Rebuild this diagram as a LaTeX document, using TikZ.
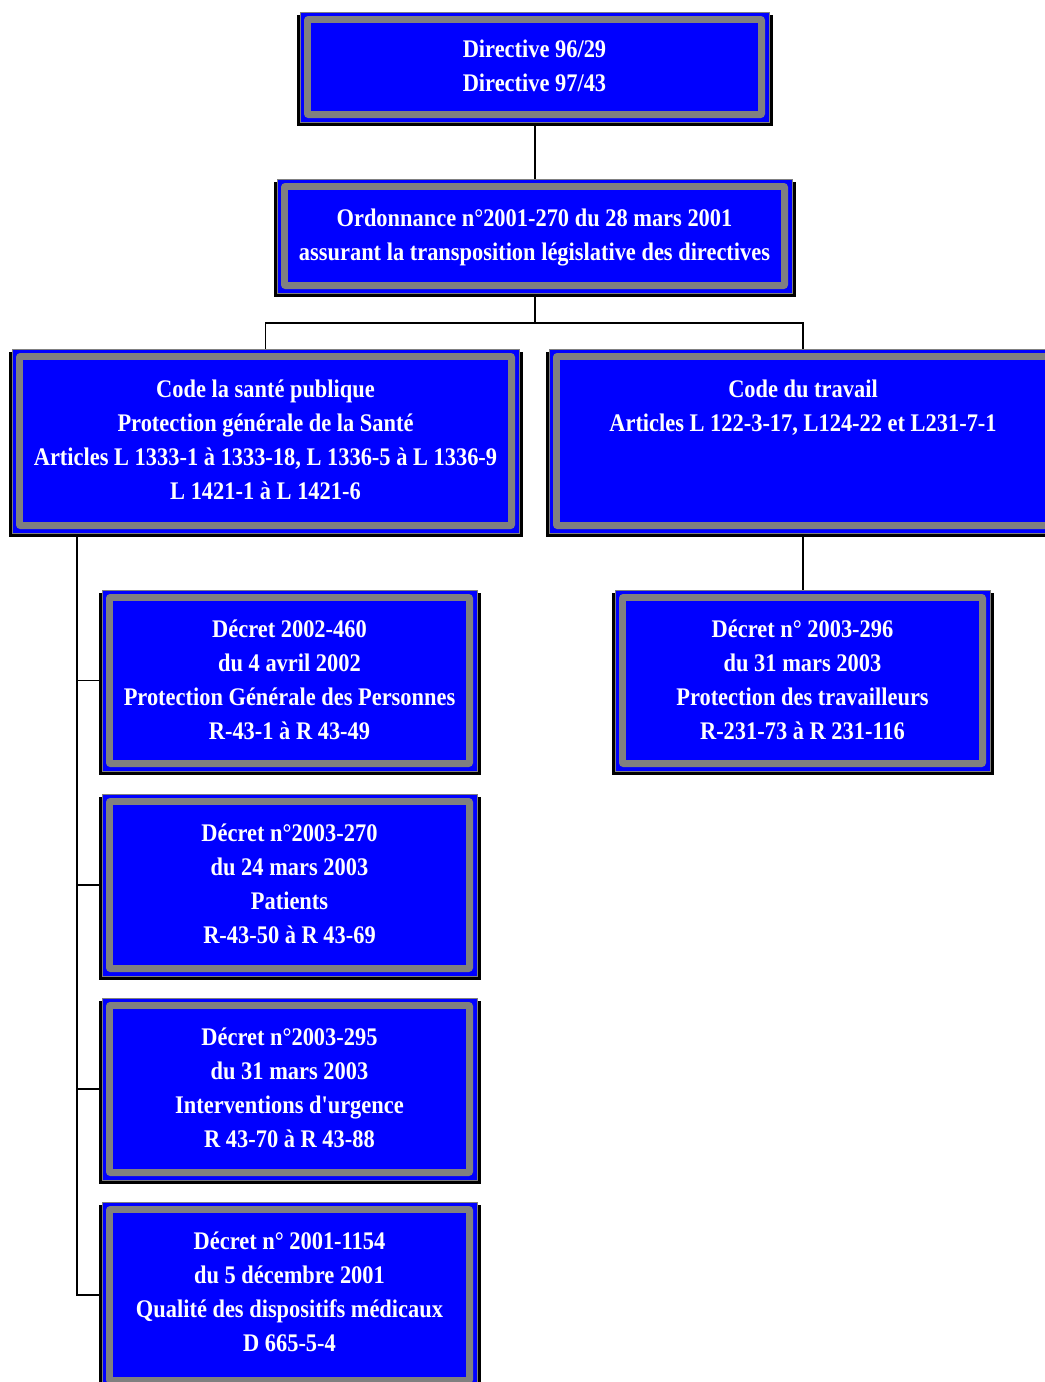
\documentclass[tikz,border=0pt]{standalone}
\usepackage{fontspec}
\setmainfont{Liberation Serif}[FakeStretch=0.885,Ligatures=TeXOff]
\usepackage{tikz}
\usetikzlibrary{calc,fit}
\definecolor{boxblue}{RGB}{0,0,255}
\definecolor{boxgray}{RGB}{128,128,128}
\tikzset{>=stealth}
\tikzset{
  boxtext/.style={text=white,align=center,font=\fontsize{19}{25.5}\selectfont\bfseries},
  link/.style={black,line width=1pt}
}
% framed box: name, x1, y1, x2, y2
\newcommand{\docbox}[5]{%
  \fill[black] (#2-3,#3+3) rectangle (#4+4,#5+4);
  \filldraw[draw=boxgray,fill=boxblue,line width=0.6pt] (#2,#3) rectangle (#4,#5);
  \fill[boxgray,rounded corners=3] (#2+4,#3+4) rectangle (#4-4,#5-4);
  \fill[boxblue] (#2+11,#3+11) rectangle (#4-11,#5-11);
  \node[fit={(#2,#3) (#4,#5)},inner sep=0pt] (#1) {};
}

\begin{document}
\begin{tikzpicture}[x=0.75pt,y=-0.75pt]
      \useasboundingbox (0,0) rectangle (1045,1382);

      % connectors first, boxes on top
      \coordinate (fork) at (535,323);
      \coordinate (spine) at (77,533);
      \draw[link] (535,122) -- (535,179);
      \draw[link] (535,293) -- (fork);
      \draw[link] (265.5,349) |- (fork) -| (803,349);
      \draw[link] (803,533) -- (803,590);
      \foreach \y in {680.5,885,1089,1295}
        \draw[link] (spine) |- (102,\y);

      \docbox{dir}{300}{12}{769}{122}
      \docbox{ord}{277}{179}{792}{293}
      \docbox{sante}{12}{349}{519}{533}
      \docbox{travail}{549}{349}{1057}{533}
      \docbox{d1}{102}{590}{477}{771}
      \docbox{d2}{102}{794}{477}{976}
      \docbox{d3}{102}{998}{477}{1180}
      \docbox{d4}{102}{1202}{477}{1388}
      \docbox{dt}{615}{590}{990}{771}

      % texts
      \node[boxtext] (dir-txt) at ($(dir)+(0,-1)$) {Directive 96/29\\Directive 97/43};
      \node[boxtext] (ord-txt) at ($(ord)+(0,2)$) {Ordonnance n°2001-270 du 28 mars 2001\\assurant la transposition législative des directives};
      \node[boxtext] (sante-txt) at ($(sante)+(0,-1)$) {Code la santé publique\\Protection générale de la Santé\\Articles L 1333-1 à 1333-18, L 1336-5 à L 1336-9\\L 1421-1 à L 1421-6};
      \node[boxtext,anchor=north] (travail-txt) at (sante-txt.north -| travail) {Code du travail\\Articles L 122-3-17, L124-22 et L231-7-1};
      \node[boxtext] (d1-txt) at ($(d1)+(0,-1)$) {Décret 2002-460\\du 4 avril 2002\\Protection Générale des Personnes\\R-43-1 à R 43-49};
      \node[boxtext] (d2-txt) at ($(d2)+(0,-1)$) {Décret n°2003-270\\du 24 mars 2003\\Patients\\R-43-50 à R 43-69};
      \node[boxtext] (d3-txt) at ($(d3)+(0,-1)$) {Décret n°2003-295\\du 31 mars 2003\\Interventions d'urgence\\R 43-70 à R 43-88};
      \node[boxtext] (d4-txt) at ($(d4)+(0,-3)$) {Décret n° 2001-1154\\du 5 décembre 2001\\Qualité des dispositifs médicaux\\D 665-5-4};
      \node[boxtext] (dt-txt) at ($(dt)+(0,-1)$) {Décret n° 2003-296\\du 31 mars 2003\\Protection des travailleurs\\R-231-73 à R 231-116};
\end{tikzpicture}
\end{document}
